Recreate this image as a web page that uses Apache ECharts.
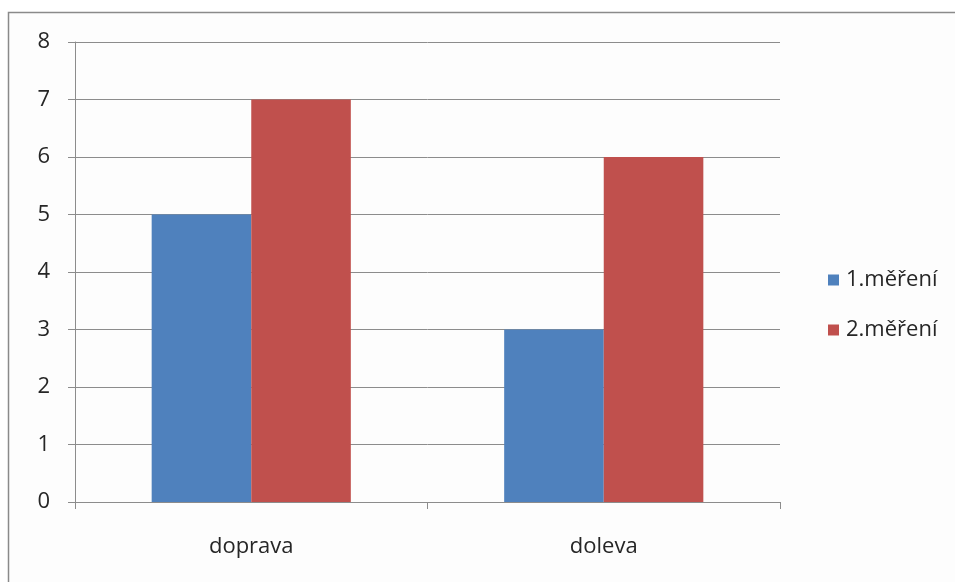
<!DOCTYPE html>
<html>
<head>
<meta charset="utf-8">
<script src="https://cdn.jsdelivr.net/npm/echarts@6/dist/echarts.min.js"></script>
<style>
  html, body { margin: 0; padding: 0; background: #ffffff; }
  #chart { width: 955px; height: 582px; }
</style>
</head>
<body>
<div id="chart"></div>
<script>
// Chart data
const categories = ['doprava', 'doleva'];
const seriesNames = ['1.měření', '2.měření'];
const mereni1 = [5, 3];
const mereni2 = [7, 6];
const yTicks = { min: 0, max: 8, interval: 1 };

const FONT = '"Open Sans", Lato, sans-serif';
const TEXT = '#262626';
const chart = echarts.init(document.getElementById('chart'), null, { renderer: 'canvas' });

chart.setOption({
  backgroundColor: '#ffffff',
  animation: false,
  graphic: [{
    type: 'rect',
    z: -10,
    shape: { x: 8.5, y: 12.5, width: 960, height: 600 },
    style: { fill: '#fdfdfd', stroke: '#8a8a8a', lineWidth: 1.5 }
  }],
  grid: { left: 75, right: 175, top: 42, bottom: 80 },
  legend: {
    orient: 'vertical',
    left: 823,
    top: 264,
    itemWidth: 11,
    itemHeight: 11,
    itemGap: 28,
    icon: 'rect',
    textStyle: { fontFamily: FONT, fontSize: 22, color: TEXT, padding: [0, 0, 0, 2] },
    data: seriesNames
  },
  xAxis: {
    type: 'category',
    data: categories,
    axisLine: { lineStyle: { color: '#8c8c8c', width: 1 } },
    axisTick: { show: true, length: 7, lineStyle: { color: '#8c8c8c' } },
    axisLabel: { fontFamily: FONT, fontSize: 22, color: TEXT, margin: 34 }
  },
  yAxis: {
    type: 'value',
    min: yTicks.min,
    max: yTicks.max,
    interval: yTicks.interval,
    axisLine: { show: true, lineStyle: { color: '#8c8c8c', width: 1 } },
    axisTick: { show: true, length: 7, lineStyle: { color: '#8c8c8c' } },
    splitLine: { lineStyle: { color: '#8c8c8c', width: 1 } },
    axisLabel: { fontFamily: FONT, fontSize: 22, color: TEXT, margin: 25 }
  },
  series: [
    {
      name: seriesNames[0],
      type: 'bar',
      data: mereni1,
      barGap: '0%',
      barCategoryGap: '43.5%',
      itemStyle: { color: '#4f81bd' }
    },
    {
      name: seriesNames[1],
      type: 'bar',
      data: mereni2,
      itemStyle: { color: '#c0504d' }
    }
  ]
});
</script>
</body>
</html>
